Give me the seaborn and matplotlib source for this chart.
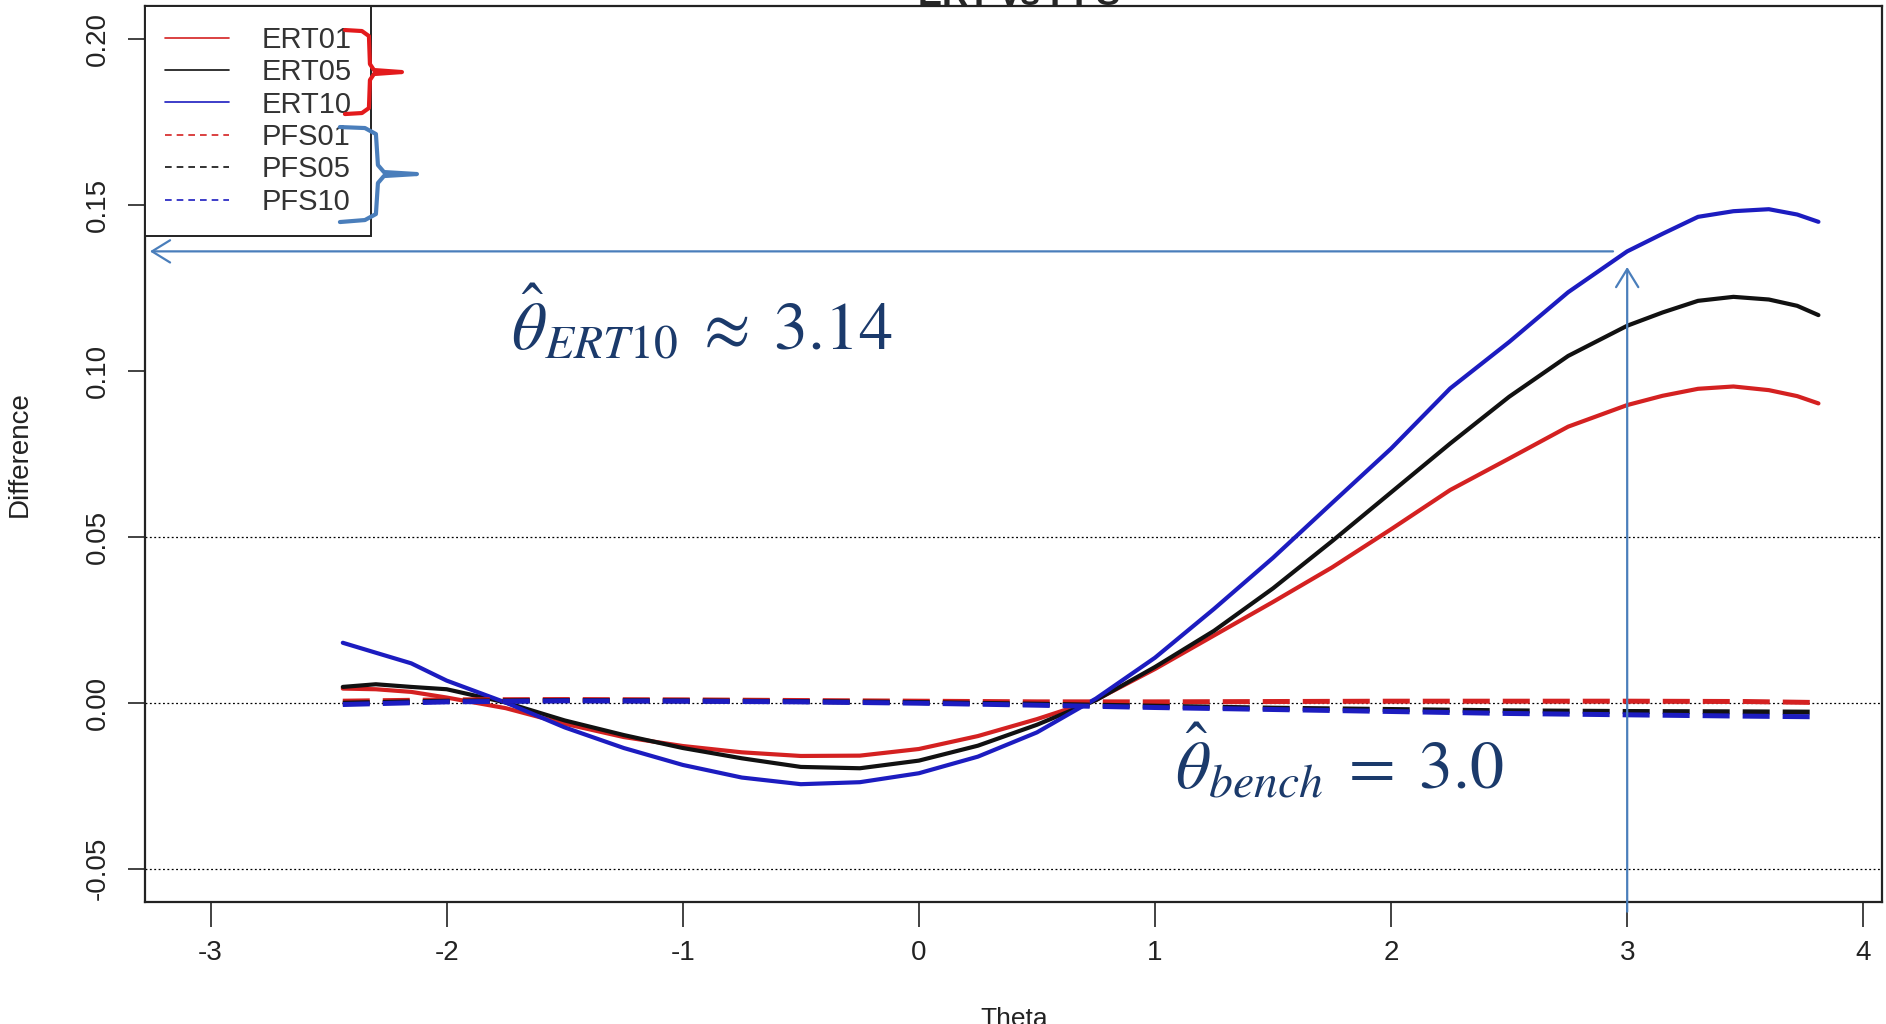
import numpy as np
import pandas as pd
import seaborn as sns
import matplotlib.pyplot as plt
from matplotlib.lines import Line2D

# values
theta = [-2.44, -2.3, -2.15, -2.0, -1.75, -1.5, -1.25, -1.0, -0.75, -0.5,
         -0.25, 0.0, 0.25, 0.5, 0.75, 1.0, 1.25, 1.5, 1.75, 2.0,
         2.25, 2.5, 2.75, 3.0, 3.15, 3.3, 3.45, 3.6, 3.72, 3.81]
ert01 = [0.0042, 0.0040, 0.0032, 0.0015, -0.0017, -0.0064, -0.0104, -0.0131, -0.0150, -0.0161,
         -0.0160, -0.0140, -0.0101, -0.0050, 0.0008, 0.0101, 0.0202, 0.0303, 0.0407, 0.0522,
         0.0640, 0.0735, 0.0831, 0.0896, 0.0924, 0.0945, 0.0952, 0.0941, 0.0923, 0.0901]
ert05 = [0.0047, 0.0055, 0.0047, 0.0040, 0.0000, -0.0054, -0.0098, -0.0137, -0.0168, -0.0194,
         -0.0198, -0.0175, -0.0130, -0.0067, 0.0007, 0.0107, 0.0216, 0.0344, 0.0486, 0.0633,
         0.0780, 0.0921, 0.1044, 0.1135, 0.1175, 0.1210, 0.1222, 0.1214, 0.1195, 0.1167]
ert10 = [0.0180, 0.0150, 0.0118, 0.0066, 0.0000, -0.0075, -0.0137, -0.0188, -0.0226, -0.0246,
         -0.0240, -0.0213, -0.0163, -0.0090, 0.0012, 0.0135, 0.0282, 0.0436, 0.0601, 0.0765,
         0.0946, 0.1086, 0.1236, 0.1359, 0.1412, 0.1463, 0.1480, 0.1486, 0.1470, 0.1448]

theta_pfs = [-2.44, -2.0, -1.5, -1.0, -0.5, 0.0, 0.5, 1.0, 1.5, 2.0, 2.5, 3.0, 3.5, 3.81]
pfs01 = [0.0004, 0.0008, 0.0009, 0.0008, 0.0006, 0.0004, 0.0002, 0.0002, 0.0003, 0.0004, 0.0004, 0.0004, 0.0003, 0.0000]
pfs05 = [-0.0002, 0.0004, 0.0006, 0.0005, 0.0003, 0.0000, -0.0005, -0.0011, -0.0017, -0.0021, -0.0025, -0.0027, -0.0028, -0.0029]
pfs10 = [-0.0006, 0.0002, 0.0005, 0.0004, 0.0002, -0.0002, -0.0008, -0.0015, -0.0021, -0.0027, -0.0033, -0.0037, -0.0041, -0.0043]

ref_lines = [-0.05, 0.0, 0.05]
x_ticks = [-3, -2, -1, 0, 1, 2, 3, 4]
y_ticks = [-0.05, 0.0, 0.05, 0.10, 0.15, 0.20]

red, black, blue = "#d42121", "#111111", "#1c1cc0"
arrow_blue = "#4a7ebb"
navy = "#1b3a6b"

ert = pd.DataFrame({
    "theta": theta * 3,
    "diff": ert01 + ert05 + ert10,
    "series": ["ERT01"] * len(theta) + ["ERT05"] * len(theta) + ["ERT10"] * len(theta),
})
pfs = pd.DataFrame({
    "theta": theta_pfs * 3,
    "diff": pfs01 + pfs05 + pfs10,
    "series": ["PFS01"] * len(theta_pfs) + ["PFS05"] * len(theta_pfs) + ["PFS10"] * len(theta_pfs),
})

sns.set_theme(style="white")
plt.rcParams["font.family"] = ["Liberation Sans", "DejaVu Sans"]
plt.rcParams["axes.unicode_minus"] = False
plt.rcParams["mathtext.fontset"] = "stix"

fig = plt.figure(figsize=(18.86, 10.24), dpi=100)
ax = fig.add_axes([0.0771, 0.1191, 0.921, 0.875])

for y in ref_lines:
    ax.axhline(y, color="black", lw=0.9, ls=(0, (1.5, 2)), zorder=1)

sns.lineplot(data=ert, x="theta", y="diff", hue="series",
             palette={"ERT01": red, "ERT05": black, "ERT10": blue},
             estimator=None, lw=3.0, legend=False, ax=ax)
sns.lineplot(data=pfs, x="theta", y="diff", hue="series", style="series",
             palette={"PFS01": red, "PFS05": black, "PFS10": blue},
             dashes={"PFS01": (5.4, 2.6), "PFS05": (5.4, 2.6), "PFS10": (5.4, 2.6)},
             estimator=None, lw=3.6, legend=False, ax=ax)

ax.set_xlim(-3.276, 4.081)
ax.set_ylim(-0.0601, 0.2098)
ax.set_xticks(x_ticks)
ax.set_yticks(y_ticks)
ax.set_xticklabels([str(t) for t in x_ticks])
ax.set_yticklabels(["%.2f" % t for t in y_ticks], rotation=90, va="center")
ax.tick_params(axis="x", length=18, width=1.2, pad=9, labelsize=20, colors="#222222")
ax.tick_params(axis="y", length=12, width=1.2, pad=13, labelsize=20, colors="#222222")
ax.tick_params(axis="both", direction="out", bottom=True, left=True)
for s in ax.spines.values():
    s.set_color("#222222")
    s.set_linewidth(1.6)

ax.set_xlabel("Theta", fontsize=19, color="#222222")
ax.xaxis.set_label_coords(0.5, -0.117)
ax.set_ylabel("Difference", fontsize=20, color="#222222")
ax.yaxis.label.set_va("center")
ax.yaxis.set_label_coords(-0.0723, 0.5)

fig.text(1019 / 1886, 1 - 5 / 1024, "ERT vs PFS", ha="center", va="baseline",
         fontsize=26, fontweight="bold")

# legend (thin lines like the R legend)
handles = [
    Line2D([], [], color=red, lw=1.2),
    Line2D([], [], color=black, lw=1.2),
    Line2D([], [], color=blue, lw=1.2),
    Line2D([], [], color=red, lw=1.2, ls=(0, (4, 3))),
    Line2D([], [], color=black, lw=1.2, ls=(0, (4, 3))),
    Line2D([], [], color=blue, lw=1.2, ls=(0, (4, 3))),
]
labels = ["ERT01", "ERT05", "ERT10", "PFS01", "PFS05", "PFS10"]
leg = ax.legend(handles, labels, loc="upper left", bbox_to_anchor=(0, 1),
                borderaxespad=0, fontsize=21, handlelength=2.2, handletextpad=1.1,
                labelspacing=0.15, borderpad=0.68, fancybox=False, framealpha=1,
                edgecolor="#222222", labelcolor="#333333")
leg.get_frame().set_linewidth(1.4)

# braces next to the legend, in axes fraction
def px(x, y):
    return (x - 145.5) / 1736.9, (902 - y) / 896

red_brace = [(345, 30), (362, 31), (369, 36), (370, 64), (374, 70), (402, 72),
             (374, 74), (370, 80), (369, 108), (362, 113), (345, 114)]
blue_brace = [(340, 127), (365, 128), (376, 134), (378, 165), (384, 172), (417, 174),
              (384, 176), (378, 183), (376, 214), (365, 220), (340, 222)]
for pts, c in [(red_brace, "#e31a1c"), (blue_brace, arrow_blue)]:
    xy = np.array([px(a, b) for a, b in pts])
    ax.plot(xy[:, 0], xy[:, 1], color=c, lw=3, transform=ax.transAxes,
            clip_on=False, solid_joinstyle="round", solid_capstyle="round", zorder=6)

# arrows for the benchmark reading
arrow_kw = dict(arrowstyle="->,head_length=0.65,head_width=0.4", color=arrow_blue,
                lw=1.6, mutation_scale=20, shrinkA=0, shrinkB=0)
ax.annotate("", xy=(-3.257, 0.1359), xytext=(2.94, 0.1359),
            arrowprops=arrow_kw, annotation_clip=False)
ax.annotate("", xy=(3.0, 0.1312), xytext=(3.0, -0.063),
            arrowprops=arrow_kw, annotation_clip=False)

ax.text(-1.728, 0.1062, r"$\hat{\theta}_{ERT10}\;\approx\;3.14$", fontsize=49,
        color=navy, ha="left", va="baseline")
ax.text(1.0845, -0.0258, r"$\hat{\theta}_{bench}\;=\;3.0$", fontsize=49,
        color=navy, ha="left", va="baseline")

fig.savefig("out.png", dpi=100)
